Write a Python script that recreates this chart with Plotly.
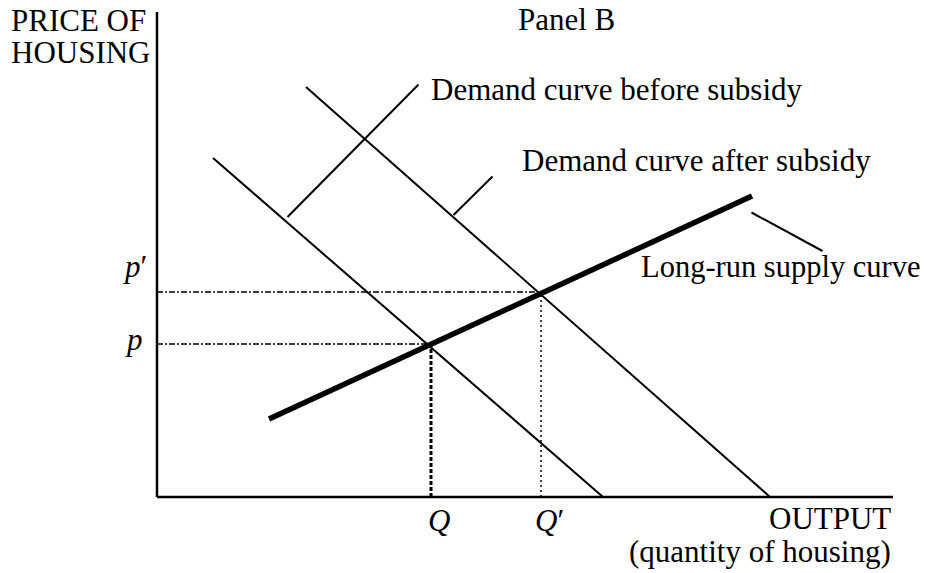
import plotly.graph_objects as go

# ---- data (abstract diagram units) ----
axis_x_end = 14.72
axis_y_top = 9.70

supply_x = [2.24, 11.90]
supply_y = [1.56, 6.02]

demand_before_x = [1.12, 8.92]
demand_before_y = [6.78, 0.00]

demand_after_x = [2.98, 12.26]
demand_after_y = [8.20, 0.00]

eq_quantity = [5.48, 7.68]      # Q, Q'
eq_price = [3.06, 4.10]         # p, p'

leader_before_x = [2.61, 5.23]
leader_before_y = [5.60, 8.25]
leader_after_x = [5.93, 6.71]
leader_after_y = [5.64, 6.41]
leader_supply_x = [11.89, 13.31]
leader_supply_y = [5.69, 4.92]

curve_labels = ["Demand curve before subsidy", "Demand curve after subsidy", "Long-run supply curve"]
curve_label_x = [5.44, 7.25, 9.64]
curve_label_y = [8.15, 6.73, 4.61]

price_tick_labels = ["<i>p</i>", "<i>p</i>′"]
price_tick_x = [-0.69, -0.72]
price_tick_y = [3.16, 4.62]

qty_tick_labels = ["<i>Q</i>", "<i>Q</i>′"]
qty_tick_x = [5.64, 7.84]
qty_tick_y = [-0.47, -0.47]

y_title = ["PRICE OF", "HOUSING"]
x_title = ["OUTPUT", "(quantity of housing)"]
panel_title = "Panel B"

FONT = "Liberation Serif, Times New Roman, serif"
FS = 31

fig = go.Figure()

def line(xs, ys, width, dash="solid"):
    fig.add_trace(go.Scatter(x=xs, y=ys, mode="lines",
                             line=dict(color="black", width=width, dash=dash),
                             hoverinfo="skip", showlegend=False))

# axes
line([0, 0], [0, axis_y_top], 2.5)
line([0, axis_x_end], [0, 0], 2.5)

# guide lines
for q, p in zip(eq_quantity, eq_price):
    line([0, q], [p, p], 1.3, "6px,2px,2px,2px")
line([eq_quantity[0], eq_quantity[0]], [0, eq_price[0]], 3, "4px,2px")
line([eq_quantity[1], eq_quantity[1]], [0, eq_price[1]], 1.5, "2px,3px")

# curves
line(demand_before_x, demand_before_y, 2)
line(demand_after_x, demand_after_y, 2)
line(supply_x, supply_y, 5.5)

# leader lines
line(leader_before_x, leader_before_y, 2)
line(leader_after_x, leader_after_y, 2)
line(leader_supply_x, leader_supply_y, 2)

ann = []
def text(t, x, y, xa="left", size=FS):
    ann.append(dict(text=t, x=x, y=y, xref="x", yref="y", showarrow=False,
                    xanchor=xa, yanchor="middle",
                    font=dict(family=FONT, size=size, color="black")))

for t, x, y in zip(curve_labels, curve_label_x, curve_label_y):
    text(t, x, y, size=30.5 if t.startswith("Long") else FS)
for t, x, y in zip(price_tick_labels, price_tick_x, price_tick_y):
    text(t, x, y)
for t, x, y in zip(qty_tick_labels, qty_tick_x, qty_tick_y):
    text(t, x, y, "center")
text(y_title[0], -2.96, 9.53)
text(y_title[1], -2.96, 8.89)
text(x_title[0], axis_x_end, -0.43, "right")
text(x_title[1], axis_x_end, -1.09, "right")
text(panel_title, 8.19, 9.55, "center")

# page body has an 8px default margin: figure sized to fit the window exactly,
# ranges chosen so the drawing lands where the reference has it
fig.update_layout(
    width=925, height=565, autosize=False,
    margin=dict(l=0, r=0, t=0, b=0),
    paper_bgcolor="white", plot_bgcolor="white",
    xaxis=dict(range=[-2.98, 15.52], visible=False, fixedrange=True),
    yaxis=dict(range=[-1.52, 9.78], visible=False, fixedrange=True),
    annotations=ann,
    showlegend=False,
)

fig.write_html("out.html", config={"displayModeBar": False})
